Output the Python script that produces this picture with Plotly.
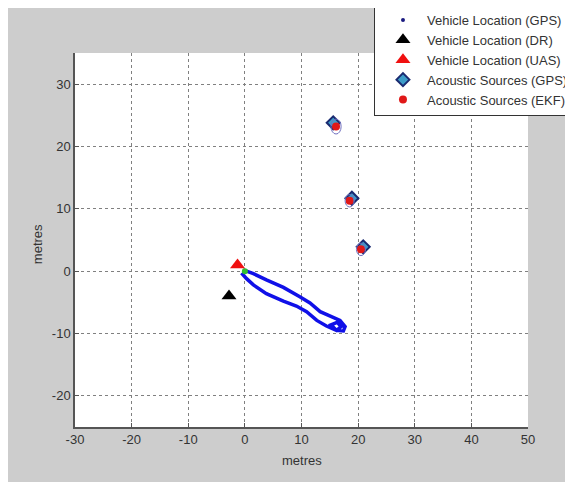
import plotly.graph_objects as go

# ---- data ----
gps_x = [-0.3, 1.5, 3.8, 6.8, 9.7, 11.5, 13.3, 15.6, 16.8, 17.7, 17.4, 16.2,
         15.2, 16.3, 17.0, 16.2, 14.4, 12.7, 10.9, 9.1, 6.8, 3.8, 1.5, 0.3, -0.6]
gps_y = [0.2, -0.4, -1.4, -2.6, -4.1, -5.1, -6.5, -7.4, -7.9, -8.9, -9.6, -9.5,
         -8.6, -8.2, -8.9, -9.5, -8.8, -7.9, -6.5, -5.6, -4.8, -3.6, -2.2, -1.2, -0.3]

start_x = [0.0]
start_y = [0.0]

dr_x = [-2.8]
dr_y = [-4.0]

uas_x = [-1.3]
uas_y = [1.0]

src_gps_x = [15.6, 18.9, 20.9]
src_gps_y = [23.8, 11.7, 3.9]

src_ekf_x = [16.1, 18.5, 20.5]
src_ekf_y = [23.2, 11.3, 3.5]

ell_rx = [0.9, 0.8, 0.8]
ell_ry = [1.2, 1.0, 1.0]

x_ticks = [-30, -20, -10, 0, 10, 20, 30, 40, 50]
y_ticks = [-20, -10, 0, 10, 20, 30]

legend_names = ["Vehicle Location (GPS)", "Vehicle Location (DR)", "Vehicle Location (UAS)",
                "Acoustic Sources (GPS)", "Acoustic Sources (EKF)"]

FONT = "Liberation Sans, Arial"

fig = go.Figure()

# GPS track drawn as line
fig.add_trace(go.Scatter(x=gps_x, y=gps_y, mode="lines",
                         line=dict(color="#1010e8", width=3.5),
                         showlegend=False, hoverinfo="skip"))
# legend entry for GPS
fig.add_trace(go.Scatter(x=[None], y=[None], mode="markers", name=legend_names[0],
                         marker=dict(color="#1a1a80", size=4)))
fig.add_trace(go.Scatter(x=start_x, y=start_y, mode="markers", showlegend=False,
                         marker=dict(color="#30c030", size=6)))
fig.add_trace(go.Scatter(x=dr_x, y=dr_y, mode="markers", name=legend_names[1],
                         marker=dict(symbol="triangle-up", color="black", size=13)))
fig.add_trace(go.Scatter(x=uas_x, y=uas_y, mode="markers", name=legend_names[2],
                         marker=dict(symbol="triangle-up", color="#f01010", size=13)))
fig.add_trace(go.Scatter(x=src_gps_x, y=src_gps_y, mode="markers", name=legend_names[3],
                         marker=dict(symbol="diamond", color="#3d9cc8", size=10,
                                     line=dict(color="#1a2a70", width=2))))
fig.add_trace(go.Scatter(x=src_ekf_x, y=src_ekf_y, mode="markers", name=legend_names[4],
                         marker=dict(symbol="circle", color="#e01818", size=8)))

shapes = []
for cx, cy, rx, ry in zip(src_ekf_x, src_ekf_y, ell_rx, ell_ry):
    shapes.append(dict(type="circle", xref="x", yref="y",
                       x0=cx - rx, x1=cx + rx, y0=cy - ry, y1=cy + ry,
                       line=dict(color="#7070c0", width=1)))

axis_common = dict(showgrid=True, gridcolor="#808080", griddash="dot", gridwidth=1,
                   showline=True, linecolor="#555555", linewidth=1.5, ticks="inside",
                   ticklen=4, tickcolor="#555555", zeroline=False, automargin=False,
                   tickfont=dict(family=FONT, size=13, color="#333333"))

fig.update_xaxes(range=[-30, 50], tickvals=x_ticks, ticktext=[str(v) for v in x_ticks],
                 **axis_common)
fig.update_yaxes(range=[-25, 35], tickvals=y_ticks, ticktext=[str(v) for v in y_ticks],
                 **axis_common)

fig.update_layout(
    width=565, height=474,
    margin=dict(l=67, r=45, t=45, b=55, autoexpand=False),
    paper_bgcolor="#cdcdcd", plot_bgcolor="white",
    shapes=shapes,
    showlegend=True,
    legend=dict(x=0.660, y=1.131, xanchor="left", yanchor="top",
                bgcolor="white", bordercolor="#333333", borderwidth=1,
                indentation=4, itemwidth=38,
                font=dict(family=FONT, size=13, color="#333333")),
    annotations=[
        dict(text="metres", xref="paper", yref="paper", x=0.5, y=-0.09,
             xanchor="center", yanchor="middle",
             showarrow=False, font=dict(family=FONT, size=13, color="#333333")),
        dict(text="metres", xref="paper", yref="paper", x=-0.083, y=0.49, textangle=-90,
             xanchor="center", yanchor="middle",
             showarrow=False, font=dict(family=FONT, size=13, color="#333333")),
    ],
)

fig.write_html("out.html")
